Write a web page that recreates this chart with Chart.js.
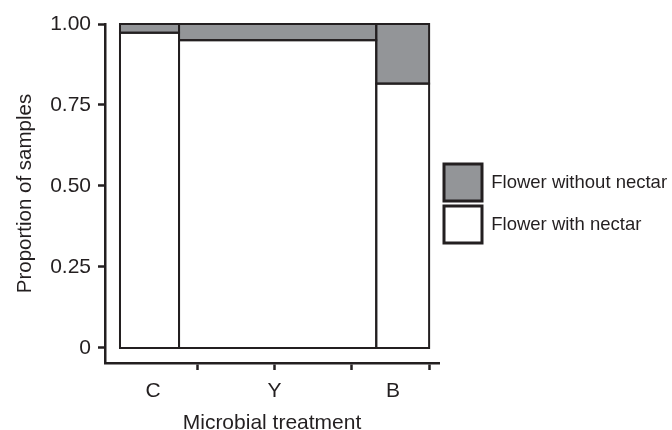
<!DOCTYPE html>
<html>
<head>
<meta charset="utf-8">
<script src="https://cdn.jsdelivr.net/npm/chart.js@4"></script>
<style>
  html, body { margin: 0; padding: 0; background: #fff; }
  #cadre { width: 672px; height: 430px; }
</style>
</head>
<body>
<div id="cadre"><canvas id="mosaique"></canvas></div>
<script>
const categories = ["C", "Y", "B"];
const partEchantillons = [0.191, 0.638, 0.171];
const avecNectar = [0.973, 0.95, 0.816];
const sansNectar = [0.027, 0.05, 0.184];
const yTicks = [0, 0.25, 0.5, 0.75, 1];
const yTickLabels = ["0", "0.25", "0.50", "0.75", "1.00"];
const xTickMarks = [0.25, 0.5, 0.75, 1];
const xLabelAt = [0.107, 0.5, 0.883];

const encre = "#231f20";
const gris = "#939598";
const police = "'Liberation Sans', Arial, sans-serif";

// rectangles de la mosaique, dessines via les echelles
const mosaiquePlugin = {
  id: "mosaique",
  afterDatasetsDraw(chart) {
    const { ctx } = chart;
    const x = chart.scales.x;
    const y = chart.scales.y;
    const rects = [];
    let debut = 0;
    categories.forEach((cat, i) => {
      const fin = debut + partEchantillons[i];
      const gauche = x.getPixelForValue(debut);
      const droite = x.getPixelForValue(fin);
      rects.push({ gauche, droite, haut: y.getPixelForValue(avecNectar[i]), bas: y.getPixelForValue(0), fond: "#ffffff" });
      rects.push({ gauche, droite, haut: y.getPixelForValue(avecNectar[i] + sansNectar[i]), bas: y.getPixelForValue(avecNectar[i]), fond: gris });
      debut = fin;
    });
    ctx.save();
    rects.forEach((r) => {
      ctx.fillStyle = r.fond;
      ctx.fillRect(r.gauche, r.haut, r.droite - r.gauche, r.bas - r.haut);
    });
    ctx.lineWidth = 2;
    ctx.strokeStyle = encre;
    rects.forEach((r) => ctx.strokeRect(r.gauche, r.haut, r.droite - r.gauche, r.bas - r.haut));
    ctx.restore();
  },
};

const ctx = document.getElementById("mosaique").getContext("2d");
const chart = new Chart(ctx, {
  type: "scatter",
  data: { datasets: [] },
  plugins: [mosaiquePlugin],
  options: {
    responsive: true,
    maintainAspectRatio: false,
    animation: false,
    layout: { padding: { left: 0, top: 24, right: 0, bottom: 0 } },
    plugins: {
      tooltip: { enabled: false },
      legend: {
        position: "right",
        align: "start",
        fullSize: false,
        maxWidth: 233,
        onClick: () => {},
        title: { display: true, text: "", font: { size: 10, lineHeight: 1 }, padding: { top: 125, bottom: 0 } },
        labels: {
          boxWidth: 38,
          boxHeight: 37,
          padding: 5,
          color: encre,
          font: { family: police, size: 18.5 },
          generateLabels: () => [
            { text: "Flower without nectar", fillStyle: gris, strokeStyle: encre, lineWidth: 3, hidden: false, fontColor: encre },
            { text: "Flower with nectar", fillStyle: "#ffffff", strokeStyle: encre, lineWidth: 3, hidden: false, fontColor: encre },
          ],
        },
      },
    },
    scales: {
      x: {
        type: "linear",
        min: -0.0485,
        max: 1.032,
        afterBuildTicks: (s) => {
          const vals = [...new Set([...xTickMarks, ...xLabelAt])].sort((a, b) => a - b);
          s.ticks = vals.map((v) => ({ value: v }));
        },
        afterFit: (s) => {
          s.height = 67;
          s.paddingLeft = 0;
          s.paddingRight = 0;
        },
        ticks: {
          autoSkip: false,
          maxRotation: 0,
          padding: 9,
          color: encre,
          font: { family: police, size: 21 },
          callback: (v) => {
            const i = xLabelAt.indexOf(v);
            return i >= 0 ? categories[i] : "";
          },
        },
        grid: {
          drawOnChartArea: false,
          tickLength: 7,
          tickWidth: 2.5,
          tickColor: (c) => (c.tick && xTickMarks.includes(c.tick.value) ? encre : "rgba(0,0,0,0)"),
        },
        border: { color: encre, width: 2.5 },
        title: {
          display: true,
          text: "Microbial treatment",
          color: encre,
          font: { family: police, size: 21 },
          padding: { top: 0, bottom: -6 },
        },
      },
      y: {
        type: "linear",
        min: -0.0463,
        max: 1,
        afterBuildTicks: (s) => {
          s.ticks = yTicks.map((v) => ({ value: v }));
        },
        afterFit: (s) => {
          s.width = 105;
          s.paddingTop = 0;
          s.paddingBottom = 0;
        },
        ticks: {
          padding: 7,
          color: encre,
          font: { family: police, size: 21 },
          callback: (v) => {
            const i = yTicks.indexOf(v);
            return i >= 0 ? yTickLabels[i] : "";
          },
        },
        grid: {
          drawOnChartArea: false,
          tickLength: 7,
          tickWidth: 2.5,
          tickColor: encre,
        },
        border: { color: encre, width: 2.5 },
        title: {
          display: true,
          text: "Proportion of samples",
          color: encre,
          font: { family: police, size: 20.5 },
          padding: { top: 13, bottom: 0 },
        },
      },
    },
  },
});
</script>
</body>
</html>
